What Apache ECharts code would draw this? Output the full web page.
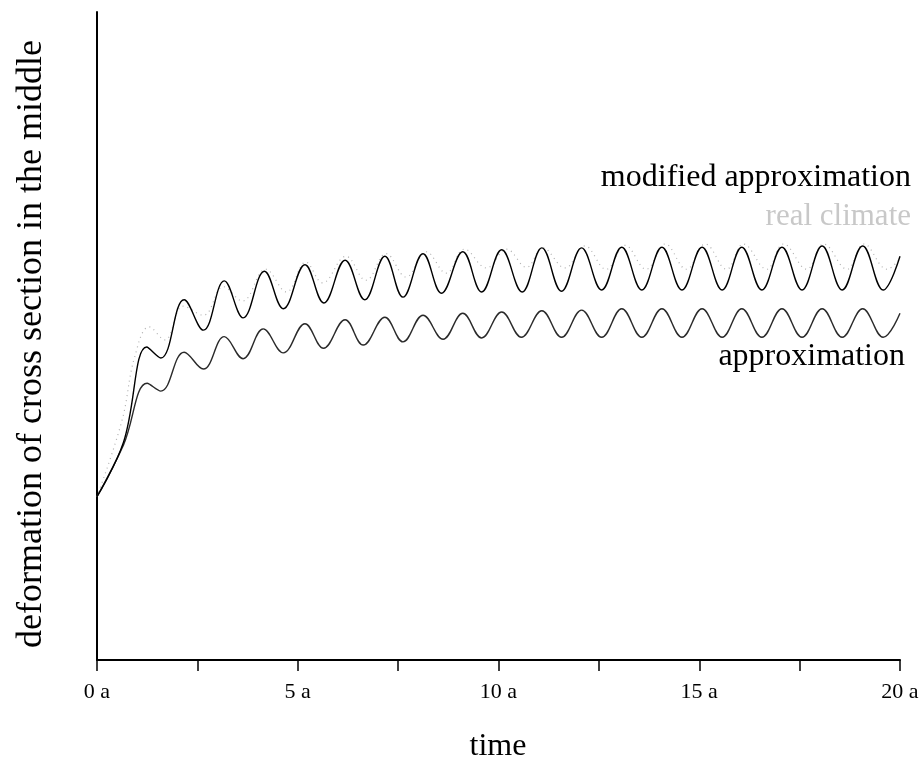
<!DOCTYPE html>
<html>
<head>
<meta charset="utf-8">
<script src="https://cdn.jsdelivr.net/npm/echarts@6/dist/echarts.min.js"></script>
<style>
html,body{margin:0;padding:0;background:#fff;}
#chart{width:923px;height:761px;}
</style>
</head>
<body>
<div id="chart"></div>
<script>
// time in years (a)
var upperX = [0,0.66,1.24,1.59,2.17,2.65,3.17,3.64,4.17,4.64,5.18,5.65,6.18,6.67,7.17,7.62,8.12,8.58,9.11,9.58,10.08,10.59,11.08,11.57,12.07,12.57,13.07,13.57,14.07,14.57,15.07,15.57,16.06,16.56,17.06,17.56,18.06,18.56,19.07,19.58,20];
var upperY = [25.2,33.6,48.3,46.6,55.6,50.9,58.5,52.8,60.0,54.2,61.0,55.1,61.7,55.6,62.3,56.0,62.7,56.6,63.0,56.8,63.3,56.8,63.6,56.9,63.6,57.1,63.7,57.1,63.7,57.1,63.7,57.1,63.7,57.1,63.7,57.1,63.9,57.1,63.9,57.1,62.3];

var lowerX = [0,0.66,1.25,1.59,2.17,2.65,3.17,3.64,4.14,4.64,5.18,5.64,6.18,6.63,7.17,7.62,8.12,8.62,9.11,9.58,10.08,10.57,11.08,11.57,12.07,12.57,13.07,13.57,14.07,14.57,15.07,15.57,16.06,16.56,17.06,17.56,18.06,18.56,19.07,19.58,20];
var lowerY = [25.2,33.2,42.7,41.5,47.5,44.9,49.9,46.5,51.1,47.4,51.9,48.1,52.5,48.6,52.9,49.1,53.2,49.5,53.5,49.7,53.7,49.8,53.9,49.8,54.0,49.8,54.2,49.8,54.2,49.8,54.2,49.8,54.2,49.8,54.2,49.8,54.2,49.8,54.2,49.8,53.5];

var realX = [0,0.62,0.94,1.3,1.69,2.15,2.65,3.15,3.62,4.2,4.72,5.2,5.62,6.2,6.7,7.2,7.7,8.2,8.7,9.15,9.7,10.2,10.7,11.1,11.66,12.15,12.68,13.15,13.68,14.15,14.68,15.15,15.68,16.1,16.68,17.1,17.68,18.1,18.68,19.1,19.68,20];
var realY = [25.2,36.9,46.8,51.4,49.4,54.6,53.2,57.6,55.4,60.3,56.8,61.4,58.2,62.3,58.6,62.7,59.1,63.0,59.7,63.4,60.5,63.4,60.6,63.6,60.5,63.9,60.3,64.0,60.3,64.2,60.3,64.2,60.3,64.2,60.3,64.2,60.3,64.2,60.3,64.2,60.3,62.0];

var xTickLabels = ['0 a','5 a','10 a','15 a','20 a'];
var labelUpper = 'modified approximation';
var labelReal = 'real climate';
var labelLower = 'approximation';
var yTitle = 'deformation of cross section in the middle';
var xTitle = 'time';

function zip(xs, ys){ return xs.map(function(x,i){ return [x, ys[i]]; }); }

var SERIF = "'Liberation Serif','Times New Roman',serif";
var chart = echarts.init(document.getElementById('chart'), null, {renderer:'canvas'});
chart.setOption({
  animation: false,
  backgroundColor: '#fff',
  grid: {left: 97, right: 23, top: 12, bottom: 101},
  xAxis: {
    type: 'value', min: 0, max: 20, interval: 2.5,
    axisLine: {show: true, onZero: false, lineStyle: {color: '#000', width: 2}},
    axisTick: {show: true, length: 11, lineStyle: {color: '#000', width: 1.5}},
    splitLine: {show: false},
    axisLabel: {
      color: '#000', fontFamily: SERIF, fontSize: 22, margin: 21,
      formatter: function(v){ var i = Math.round(v/5); return (Math.abs(v - i*5) < 1e-6) ? xTickLabels[i] : ''; }
    }
  },
  yAxis: {
    type: 'value', min: 0, max: 100,
    axisLine: {show: true, onZero: false, lineStyle: {color: '#000', width: 2}},
    axisTick: {show: false},
    axisLabel: {show: false},
    splitLine: {show: false}
  },
  series: [
    {name: labelReal, type: 'line', data: zip(realX, realY), showSymbol: false, smooth: 0.4,
     lineStyle: {color: '#b0b0b0', width: 1.2, type: [1, 4]}, z: 1},
    {name: labelLower, type: 'line', data: zip(lowerX, lowerY), showSymbol: false, smooth: 0.4,
     lineStyle: {color: '#2a2a2a', width: 1.4}, z: 2},
    {name: labelUpper, type: 'line', data: zip(upperX, upperY), showSymbol: false, smooth: 0.4,
     lineStyle: {color: '#000', width: 1.4}, z: 3}
  ],
  graphic: [
    {type: 'text', x: 911, y: 178, style: {text: labelUpper, fill: '#000', font: '32px ' + SERIF, align: 'right', verticalAlign: 'middle'}},
    {type: 'text', x: 911, y: 217, style: {text: labelReal, fill: '#c8c8c8', font: '31px ' + SERIF, align: 'right', verticalAlign: 'middle'}},
    {type: 'text', x: 905, y: 357, style: {text: labelLower, fill: '#000', font: '32px ' + SERIF, align: 'right', verticalAlign: 'middle'}},
    {type: 'text', x: 498, y: 747, style: {text: xTitle, fill: '#000', font: '32px ' + SERIF, align: 'center', verticalAlign: 'middle'}},
    {type: 'text', x: 32, y: 344, rotation: Math.PI/2, style: {text: yTitle, fill: '#000', font: '36px ' + SERIF, align: 'center', verticalAlign: 'middle'}}
  ]
});
</script>
</body>
</html>
